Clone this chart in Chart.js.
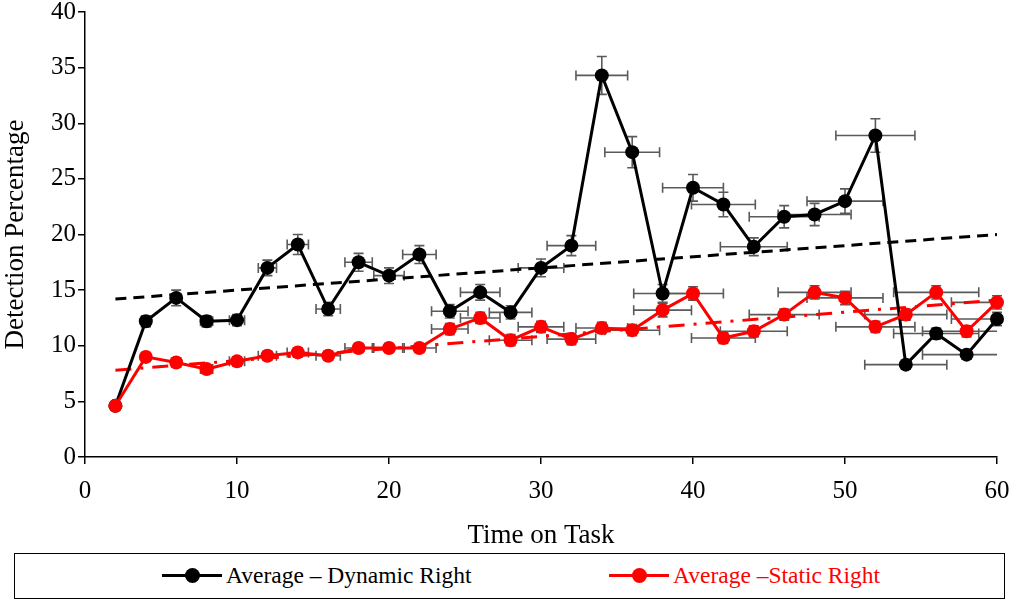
<!DOCTYPE html>
<html>
<head>
<meta charset="utf-8">
<script src="https://cdn.jsdelivr.net/npm/chart.js@4"></script>
<style>
  body { margin: 0; background: #fff; font-family: "Liberation Serif", "Times New Roman", serif; }
  #wrap { position: relative; width: 1013px; height: 603px; }
  #chart { position: absolute; left: 0; top: 0; }
  #legend { position: absolute; left: 14px; top: 553px; width: 991px; height: 46px;
            border: 1.5px solid #000; box-sizing: border-box; }
  .item { position: absolute; top: 0; height: 43px; font-size: 23.5px; line-height: 43px; white-space: nowrap; }
  .sym { position: absolute; top: 20px; width: 60px; height: 3px; }
  .dot { position: absolute; top: -6px; left: 23px; width: 15px; height: 15px; border-radius: 50%; }
  .lbl { position: absolute; left: 64px; top: 0px; }
</style>
</head>
<body>
<div id="wrap">
  <canvas id="chart" width="1013" height="552"></canvas>
  <div id="legend">
    <div class="item" style="left:147px">
      <div class="sym" style="background:#000"><div class="dot" style="background:#000"></div></div>
      <span class="lbl" style="color:#000">Average – Dynamic Right</span>
    </div>
    <div class="item" style="left:594px">
      <div class="sym" style="background:#ff0000"><div class="dot" style="background:#ff0000"></div></div>
      <span class="lbl" style="color:#ff0000">Average –Static Right</span>
    </div>
  </div>
</div>
<script>
//data
const times = [2, 4, 6, 8, 10, 12, 14, 16, 18, 20, 22, 24, 26, 28, 30,
               32, 34, 36, 38, 40, 42, 44, 46, 48, 50, 52, 54, 56, 58, 60];
const dynamicRight = [4.6, 12.2, 14.3, 12.2, 12.3, 17.0, 19.1, 13.3, 17.5, 16.3, 18.2, 13.1, 14.8, 13.0, 17.0,
                      19.0, 34.3, 27.4, 14.7, 24.2, 22.7, 18.9, 21.6, 21.8, 23.0, 28.9, 8.3, 11.1, 9.2, 12.4];
const staticRight = [4.6, 9.0, 8.5, 7.9, 8.6, 9.1, 9.4, 9.1, 9.8, 9.8, 9.8, 11.5, 12.5, 10.5, 11.7,
                     10.6, 11.6, 11.4, 13.2, 14.7, 10.7, 11.3, 12.8, 14.8, 14.3, 11.7, 12.8, 14.8, 11.3, 13.9];
//error bars (half widths)
const timeError = [0.1, 0.2, 0.3, 0.4, 0.5, 0.6, 0.7, 0.8, 0.9, 1.0, 1.1, 1.2, 1.3, 1.4, 1.5,
                   1.6, 1.7, 1.8, 1.9, 2.0, 2.1, 2.2, 2.3, 2.4, 2.5, 2.6, 2.7, 2.8, 2.9, 3.0];
const dynamicError = [0.3, 0.5, 0.7, 0.5, 0.5, 0.7, 0.9, 0.6, 0.8, 0.7, 0.8, 0.6, 0.7, 0.6, 0.8,
                      0.9, 1.7, 1.4, 0.8, 1.2, 1.1, 0.8, 1.0, 1.0, 1.1, 1.5, 0.4, 0.5, 0.4, 0.6];
const staticError = [0.3, 0.4, 0.4, 0.4, 0.4, 0.4, 0.4, 0.4, 0.4, 0.4, 0.4, 0.5, 0.5, 0.5, 0.5,
                     0.5, 0.5, 0.5, 0.6, 0.6, 0.5, 0.5, 0.5, 0.6, 0.6, 0.5, 0.5, 0.6, 0.5, 0.6];
//linear trend end points
const trendTimes = [2, 60];
const dynamicTrend = [14.2, 20.0];
const staticTrend = [7.8, 14.1];

function points(xs, ys) {
  return xs.map((x, i) => ({ x: x, y: ys[i] }));
}

//draw the x and y error bars through the scales
const errorBars = {
  id: 'errorBars',
  beforeDatasetsDraw(chart) {
    const ctx = chart.ctx;
    const xs = chart.scales.x, ys = chart.scales.y;
    const cap = 5;
    ctx.save();
    ctx.strokeStyle = '#5a5a5a';
    ctx.lineWidth = 1.6;
    [[dynamicRight, dynamicError], [staticRight, staticError]].forEach(([vals, errs]) => {
      for (let i = 0; i < times.length; i++) {
        const px = xs.getPixelForValue(times[i]);
        const py = ys.getPixelForValue(vals[i]);
        const x1 = xs.getPixelForValue(times[i] - timeError[i]);
        const x2 = xs.getPixelForValue(Math.min(60, times[i] + timeError[i]));
        const y1 = ys.getPixelForValue(vals[i] + errs[i]);
        const y2 = ys.getPixelForValue(vals[i] - errs[i]);
        ctx.beginPath();
        ctx.moveTo(x1, py); ctx.lineTo(x2, py);
        ctx.moveTo(x1, py - cap); ctx.lineTo(x1, py + cap);
        if (times[i] + timeError[i] <= 60) { ctx.moveTo(x2, py - cap); ctx.lineTo(x2, py + cap); }
        ctx.moveTo(px, y1); ctx.lineTo(px, y2);
        ctx.moveTo(px - cap, y1); ctx.lineTo(px + cap, y1);
        ctx.moveTo(px - cap, y2); ctx.lineTo(px + cap, y2);
        ctx.stroke();
      }
    });
    ctx.restore();
  }
};

const serif = "'Liberation Serif', 'Times New Roman', serif";
const tickFont = { family: serif, size: 25 };

new Chart(document.getElementById('chart'), {
  type: 'line',
  data: {
    datasets: [
      {
        label: 'Average –Static Right',
        data: points(times, staticRight),
        borderColor: '#ff0000', backgroundColor: '#ff0000',
        borderWidth: 3, pointRadius: 7, pointBorderWidth: 0,
        clip: false, order: 0
      },
      {
        label: 'Average – Dynamic Right',
        data: points(times, dynamicRight),
        borderColor: '#000', backgroundColor: '#000',
        borderWidth: 3, pointRadius: 7, pointBorderWidth: 0,
        clip: false, order: 1
      },
      {
        label: 'dynamic trend',
        data: points(trendTimes, dynamicTrend),
        borderColor: '#000', borderWidth: 3, borderDash: [11, 7],
        pointRadius: 0, order: 2
      },
      {
        label: 'static trend',
        data: points(trendTimes, staticTrend),
        borderColor: '#ff0000', borderWidth: 3, borderDash: [16, 9, 3, 9],
        pointRadius: 0, order: 3
      }
    ]
  },
  options: {
    responsive: false,
    animation: false,
    layout: { padding: { left: 0, right: 16, top: 12, bottom: 0 } },
    plugins: { legend: { display: false }, tooltip: { enabled: false } },
    scales: {
      x: {
        type: 'linear', min: 0, max: 60,
        ticks: { stepSize: 10, color: '#000', font: tickFont, padding: 12, maxRotation: 0 },
        grid: { drawOnChartArea: false, drawTicks: true, tickLength: 7, color: '#000', lineWidth: 1.5 },
        border: { color: '#000', width: 1.5 },
        title: { display: true, text: 'Time on Task', color: '#000',
                 font: { family: serif, size: 27 }, padding: { top: 4, bottom: 0 } },
        afterFit(scale) {
          scale.height = 95;
          scale.paddingLeft = 0;
          scale.paddingRight = 0;
        }
      },
      y: {
        min: 0, max: 40,
        ticks: { stepSize: 5, color: '#000', font: tickFont, padding: 2 },
        grid: { drawOnChartArea: false, drawTicks: true, tickLength: 7, color: '#000', lineWidth: 1.5 },
        border: { color: '#000', width: 1.5 },
        title: { display: true, text: 'Detection Percentage', color: '#000',
                 font: { family: serif, size: 27 }, padding: { top: 0, bottom: 0 } },
        afterFit(scale) {
          scale.width = 85;
          scale.paddingTop = 0;
          scale.paddingBottom = 0;
        }
      }
    }
  },
  plugins: [errorBars]
});
</script>
</body>
</html>
